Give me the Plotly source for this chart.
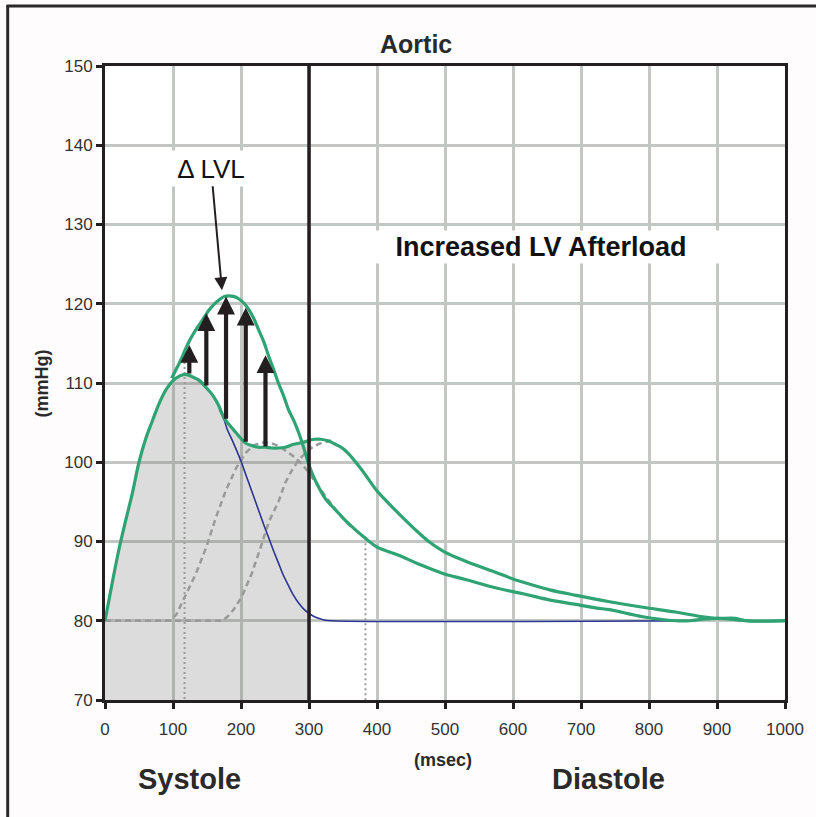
import plotly.graph_objects as go

# ---------------- data ----------------
# Normal aortic pressure (late wave reflection)
normal_x = [0, 10, 20, 30, 40, 50, 60, 70, 80, 90, 100, 110, 118, 128, 139, 150, 158, 167, 175, 184,
            193, 200, 207, 216, 225, 236, 245, 255, 265, 275, 285, 295, 302, 309, 317, 328, 338, 347,
            358, 378, 399, 415, 431, 455, 479, 499, 525, 552, 575, 596, 625, 654, 693, 742, 791, 839,
            879, 898, 927, 942, 1000]
normal_y = [80, 84.5, 88.8, 92.5, 96, 100, 103, 105.3, 107.5, 109.2, 110.3, 110.9, 111.1, 110.8, 110.3,
            109.3, 108.5, 107.2, 105.6, 104.6, 103.7, 103, 102.4, 102.1, 101.9, 101.9, 101.8, 101.8,
            101.9, 102.2, 102.4, 102.6, 102.8, 102.9, 102.9, 102.7, 102.3, 101.9, 101.1, 99, 96.5, 95,
            93.6, 91.6, 89.8, 88.7, 87.7, 86.8, 86.1, 85.4, 84.6, 83.9, 83.2, 82.4, 81.7, 81.1, 80.5,
            80.3, 80.3, 80, 80]

# Increased LV afterload (early wave reflection)
afterload_x = [98, 105, 112, 118, 124, 132, 139, 146, 153, 160, 168, 175, 182, 190, 197, 205, 212, 219,
               226, 234, 241, 248, 255, 263, 270, 278, 285, 292, 299, 306, 314, 325, 339, 353, 368, 383,
               400, 431, 460, 496, 530, 577, 615, 650, 690, 723, 742, 791, 839, 860, 880, 900, 920, 945,
               1000]
afterload_y = [110.6, 111.8, 113, 114.2, 115.3, 116.5, 117.4, 118.3, 119.2, 119.9, 120.5, 120.9, 121,
               120.9, 120.6, 120, 119.2, 118.1, 116.7, 115.1, 113.3, 111.7, 110, 108.3, 106.6, 105.2,
               103.7, 101.9, 99.9, 98.3, 96.9, 95.3, 94, 92.7, 91.5, 90.4, 89.3, 88.3, 87.2, 86, 85.2,
               84.1, 83.4, 82.7, 82.1, 81.6, 81.4, 80.5, 80, 80, 80.2, 80.3, 80.2, 80, 80]

# Incident (forward) wave
incident_x = [168, 175, 180, 187, 194, 201, 208, 216, 226, 234, 241, 248, 255, 262, 270, 278, 285, 292,
              299, 306, 314, 322, 333, 860]
incident_y = [106.7, 105.4, 104.1, 102.8, 101.4, 99.9, 98.2, 96.3, 93.9, 92.0, 90.4, 88.8, 87.3, 85.8,
              84.4, 83.1, 82.2, 81.5, 81.0, 80.6, 80.3, 80.1, 80, 80]

# Reflected waves
early_refl_x = [0, 95, 105, 114, 124, 134, 149, 163, 178, 193, 207, 218, 230, 245, 257, 268, 278, 288,
                298, 310, 325, 340, 360, 383]
early_refl_y = [80, 80, 80.8, 82.4, 84.2, 86, 89.3, 93, 96.5, 99.3, 101.2, 102.1, 102.5, 102.4, 102,
                101.3, 100.7, 99.9, 98.9, 97.4, 95.6, 93.9, 92, 90.4]
late_refl_x = [0, 172, 180, 190, 201, 216, 229, 241, 255, 265, 275, 285, 295, 305, 314, 325, 335]
late_refl_y = [80, 80, 80.5, 81.5, 83, 86, 89.3, 92.5, 95, 97.4, 99, 100.3, 101.2, 101.9, 102.3, 102.6,
               102.8]

# Dotted markers (time, top value)
marker_x = [117, 383]
marker_top = [113.9, 90.4]

# Delta LVL arrows
arrow_x = [124, 149, 178, 207, 236]
arrow_base = [111, 109.5, 105.3, 102.4, 101.8]
arrow_tip = [114.8, 118.8, 120.9, 119.5, 113.5]

systole_end = 300
x_ticks = [0, 100, 200, 300, 400, 500, 600, 700, 800, 900, 1000]
y_ticks = [70, 80, 90, 100, 110, 120, 130, 140, 150]

# ---------------- styles ----------------
GREEN = "#2fa374"
BLUE = "#2b3592"
GRAY_D = "#9a9a9a"
DARK = "#231f20"
GRID = "#c3c7c3"
FONT = "Arial, Liberation Sans, sans-serif"

fig = go.Figure()

# systole shaded area under the normal curve
sx = [x for x in normal_x if x <= systole_end]
sy = [y for x, y in zip(normal_x, normal_y) if x <= systole_end]
fig.add_trace(go.Scatter(x=sx + [systole_end], y=sy + [102.6], mode="lines",
                         line=dict(width=0), fill="tozeroy",
                         fillcolor="rgba(120,120,120,0.26)", hoverinfo="skip"))

fig.add_trace(go.Scatter(x=early_refl_x, y=early_refl_y, mode="lines",
                         line=dict(color=GRAY_D, width=2.5, dash="6px,4px")))
fig.add_trace(go.Scatter(x=late_refl_x, y=late_refl_y, mode="lines",
                         line=dict(color=GRAY_D, width=2.5, dash="6px,4px")))

for mx, mt in zip(marker_x, marker_top):
    fig.add_trace(go.Scatter(x=[mx, mx], y=[mt, 70], mode="lines",
                             line=dict(color=GRAY_D, width=2, dash="2px,3px")))

fig.add_trace(go.Scatter(x=incident_x, y=incident_y, mode="lines", line_shape="spline",
                         line=dict(color=BLUE, width=1.6)))
fig.add_trace(go.Scatter(x=normal_x, y=normal_y, mode="lines", line_shape="spline",
                         line=dict(color=GREEN, width=3.2)))
fig.add_trace(go.Scatter(x=afterload_x, y=afterload_y, mode="lines", line_shape="spline",
                         line=dict(color=GREEN, width=3.2)))

# end of systole line
fig.add_shape(type="line", xref="x", yref="y", x0=systole_end, x1=systole_end, y0=70, y1=150.8,
              line=dict(color=DARK, width=3.5), layer="above")

# Delta arrows
for ax_, b, t in zip(arrow_x, arrow_base, arrow_tip):
    fig.add_annotation(x=ax_, y=t, ax=ax_, ay=b, xref="x", yref="y", axref="x", ayref="y",
                       text="", showarrow=True, arrowhead=2, arrowsize=0.85, arrowwidth=4.2,
                       arrowcolor=DARK, standoff=0, startstandoff=0)

# Delta LVL label
fig.add_annotation(x=172, y=121.7, ax=156, ay=137.1, xref="x", yref="y", axref="x", ayref="y",
                   text="Δ LVL", showarrow=True, arrowhead=2, arrowsize=1.3, arrowwidth=2,
                   arrowcolor=DARK, bgcolor="white", width=114, height=33,
                   font=dict(family=FONT, size=26, color="#111"))

fig.add_annotation(x=641, y=127.2, xref="x", yref="y", text="<b>Increased LV Afterload</b>",
                   showarrow=False, bgcolor="white", width=372, height=30,
                   xanchor="center", yanchor="middle",
                   font=dict(family=FONT, size=27, color="#111"))

# texts outside the plotting area (paper coordinates)
outside = dict(xref="paper", yref="paper", showarrow=False, xanchor="center", yanchor="middle")
fig.add_annotation(x=0.4569, y=1.0347, text="<b>Aortic</b>",
                   font=dict(family=FONT, size=25, color="#2a2a2a"), **outside)
fig.add_annotation(x=0.1241, y=-0.1246, text="<b>Systole</b>",
                   font=dict(family=FONT, size=29, color="#2a2a2a"), **outside)
fig.add_annotation(x=0.7401, y=-0.1246, text="<b>Diastole</b>",
                   font=dict(family=FONT, size=29, color="#2a2a2a"), **outside)
fig.add_annotation(x=0.4964, y=-0.0946, text="<b>(msec)</b>",
                   font=dict(family=FONT, size=18, color="#2a2a2a"), **outside)
fig.add_annotation(x=-0.092, y=0.5, text="<b>(mmHg)</b>", textangle=-90,
                   font=dict(family=FONT, size=18, color="#2a2a2a"), **outside)

# outer picture frame (top and left)
fig.add_shape(type="line", xref="paper", yref="paper", x0=-0.1445, x1=1.05, y0=1.0946, y1=1.0946,
              line=dict(color="#2a2a2a", width=3))
fig.add_shape(type="line", xref="paper", yref="paper", x0=-0.1431, x1=-0.1431, y0=1.0962, y1=-0.2,
              line=dict(color="#2a2a2a", width=3))

axis_common = dict(showline=True, mirror=True, linecolor=DARK, linewidth=3,
                   ticks="outside", ticklen=6, tickwidth=2.5, tickcolor=DARK,
                   showgrid=True, gridcolor=GRID, gridwidth=2.5, zeroline=False,
                   tickfont=dict(family=FONT, size=17, color="#333"))

fig.update_xaxes(range=[0, 1000], tickvals=x_ticks, ticktext=[str(v) for v in x_ticks],
                 ticklabelstandoff=6, **axis_common)
fig.update_yaxes(range=[70, 150], tickvals=y_ticks, ticktext=[str(v) for v in y_ticks],
                 **axis_common)

fig.update_layout(width=816, height=817, showlegend=False,
                  margin=dict(l=105, r=26, t=66, b=117),
                  paper_bgcolor="#fefcfd", plot_bgcolor="white",
                  font=dict(family=FONT))

fig.write_html("out.html", config={"displayModeBar": False},
               post_script="document.body.style.margin='0';")
